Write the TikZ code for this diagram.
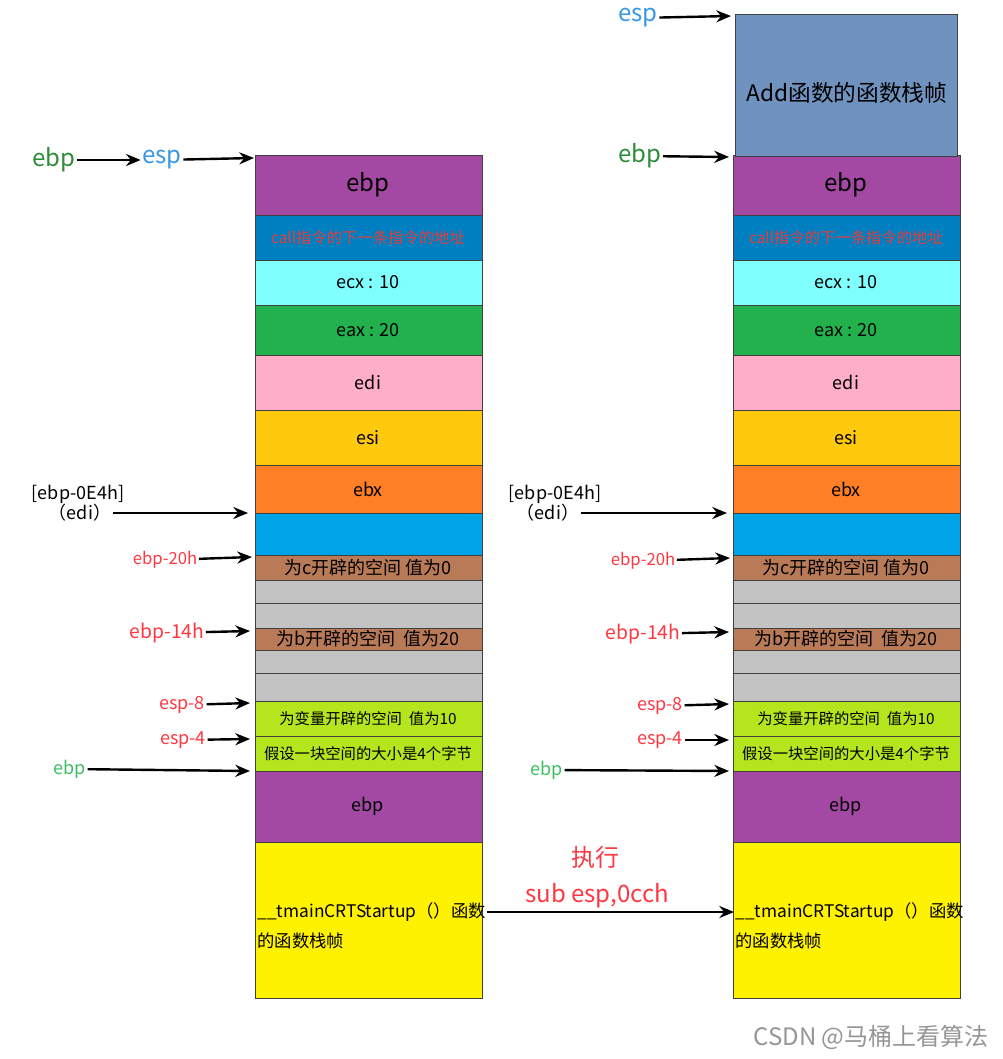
\documentclass[tikz,border=0pt]{standalone}
\usepackage{fontspec}
\setmainfont{Noto Sans CJK SC}
\usetikzlibrary{arrows.meta}
\definecolor{StEbp}{RGB}{163,73,164}
\definecolor{StCall}{RGB}{0,128,192}
\definecolor{StEcx}{RGB}{128,255,255}
\definecolor{StEax}{RGB}{34,177,76}
\definecolor{StEdi}{RGB}{255,174,201}
\definecolor{StEsi}{RGB}{255,201,14}
\definecolor{StEbx}{RGB}{255,127,39}
\definecolor{StBlue}{RGB}{0,162,232}
\definecolor{StBrown}{RGB}{185,122,87}
\definecolor{StGray}{RGB}{195,195,195}
\definecolor{StLime}{RGB}{181,230,29}
\definecolor{StYellow}{RGB}{255,242,0}
\definecolor{AddBlue}{RGB}{112,146,190}
\definecolor{CallRed}{RGB}{230,60,60}
\definecolor{EbpGreen}{RGB}{45,140,55}
\definecolor{EbpLight}{RGB}{60,190,100}
\definecolor{EspBlue}{RGB}{55,150,230}
\definecolor{LabRed}{RGB}{255,55,65}
\definecolor{MarkGray}{RGB}{150,150,150}
\newcommand{\fbig}{\fontsize{18}{20}\selectfont}
\newcommand{\fadd}{\fontsize{17}{19}\selectfont}
\newcommand{\foff}{\fontsize{14.5}{16}\selectfont}
\newcommand{\fmid}{\fontsize{13.5}{15}\selectfont}
\newcommand{\ftm}{\fontsize{13}{15}\selectfont}
\newcommand{\fred}{\fontsize{12.5}{14}\selectfont}
\newcommand{\fsmall}{\fontsize{11.5}{13}\selectfont}

\begin{document}
\begin{tikzpicture}[x=0.75pt,y=-0.75pt,
    cell/.style={draw=black!75,line width=0.6pt},
    arr/.style={-{Stealth[length=11pt,width=9pt]},line width=1.8pt,black},
    side/.style={inner sep=1pt}]
  \useasboundingbox (0,0) rectangle (1002,1059);
  % the two stacks
  \foreach \side/\dx in {L/0,R/478}{
    \foreach \ya/\yb/\col/\tc/\fs/\txt [count=\i] in {
        155/215/StEbp/black/\fbig/ebp,
        215/260/StCall/CallRed/\fsmall/call指令的下一条指令的地址,
        260/305/StEcx/black/\fmid/ecx : 10,
        305/355/StEax/black/\fmid/eax : 20,
        355/410/StEdi/black/\fmid/edi,
        410/465/StEsi/black/\fmid/esi,
        465/513/StEbx/black/\fmid/ebx,
        513/555/StBlue/black/\fmid/{},
        555/580/StBrown/black/\fmid/为c开辟的空间 值为0,
        580/603/StGray/black/\fsmall/{},
        603/628/StGray/black/\fsmall/{},
        628/650/StBrown/black/\fmid/为b开辟的空间~~值为20,
        650/673/StGray/black/\fsmall/{},
        673/701/StGray/black/\fsmall/{},
        701/736/StLime/black/\fsmall/为变量开辟的空间~~值为10,
        736/771/StLime/black/\fsmall/假设一块空间的大小是4个字节,
        771/842/StEbp/black/\fmid/ebp,
        842/998/StYellow/black/\fmid/{}}{
      \path[cell,fill=\col] (255+\dx,\ya) rectangle (482+\dx,\yb);
      \node[text=\tc,font=\fs] (\side\i) at (368+\dx,{(\ya+\yb)/2}) {\txt};
    }
    \node[anchor=west,font=\ftm,inner sep=1pt] (\side tm) at (256+\dx,912) {\_\_tmainCRTStartup（）函数};
    \node[anchor=west,font=\ftm,inner sep=1pt] (\side fr) at (256+\dx,941) {的函数栈帧};
  }
  % Add frame on top of the right stack
  \path[cell,fill=AddBlue] (735,14) rectangle (957,156);
  \node[font=\fadd] (Radd) at (847,93) {Add函数的函数栈帧};

  % pointers, left
  \node[side,text=EbpGreen,font=\fbig] (Lebp) at (54,160) {ebp};
  \node[side,text=EspBlue,font=\fbig] (Lesp) at (162,160) {esp};
  \coordinate (Ltop) at (254,158);
  \draw[arr] (Lebp) -- (Lesp);
  \draw[arr] (Lesp) -- (Ltop);
  \node[side,font=\fmid] (Lhex) at (78,494) {[ebp-0E4h]};
  \node[side,font=\fmid] (Ledi) at (80,513) {（edi）};
  \coordinate (Lblue) at (248,513);
  \draw[arr] (Ledi) -- (Lblue);
  \node[side,text=LabRed,font=\fred] (L20h) at (165,560) {ebp-20h};
  \coordinate (Lc) at (252,557);
  \draw[arr] (L20h) -- (Lc);
  \node[side,text=LabRed,font=\foff] (L14h) at (167,633) {ebp-14h};
  \coordinate (Lb) at (250,631);
  \draw[arr] (L14h) -- (Lb);
  \node[side,text=LabRed,font=\fmid] (Lesp8) at (182,705) {esp-8};
  \coordinate (Lv) at (250,703);
  \draw[arr] (Lesp8) -- (Lv);
  \node[side,text=LabRed,font=\fmid] (Lesp4) at (183,740) {esp-4};
  \coordinate (Lw) at (250,739);
  \draw[arr] (Lesp4) -- (Lw);
  \node[side,text=EbpLight,font=\fmid] (Lbase) at (70,769) {ebp};
  \coordinate (Lold) at (250,771);
  \draw[arr] (Lbase) -- (Lold);

  % pointers, right
  \node[side,text=EspBlue,font=\fbig] (Resp) at (638,18) {esp};
  \coordinate (Rtop) at (731,16);
  \draw[arr] (Resp) -- (Rtop);
  \node[side,text=EbpGreen,font=\fbig] (Rebp) at (640,156) {ebp};
  \coordinate (Rframe) at (729,157);
  \draw[arr] (Rebp) -- (Rframe);
  \node[side,font=\fmid] (Rhex) at (555,494) {[ebp-0E4h]};
  \node[side,font=\fmid] (Redi) at (548,513) {（edi）};
  \coordinate (Rblue) at (727,513);
  \draw[arr] (Redi) -- (Rblue);
  \node[side,text=LabRed,font=\fred] (R20h) at (643,561) {ebp-20h};
  \coordinate (Rc) at (730,558);
  \draw[arr] (R20h) -- (Rc);
  \node[side,text=LabRed,font=\foff] (R14h) at (643,634) {ebp-14h};
  \coordinate (Rb) at (729,632);
  \draw[arr] (R14h) -- (Rb);
  \node[side,text=LabRed,font=\fmid] (Resp8) at (660,706) {esp-8};
  \coordinate (Rv) at (729,704);
  \draw[arr] (Resp8) -- (Rv);
  \node[side,text=LabRed,font=\fmid] (Resp4) at (660,740) {esp-4};
  \coordinate (Rw) at (729,740);
  \draw[arr] (Resp4) -- (Rw);
  \node[side,text=EbpLight,font=\fmid] (Rbase) at (547,770) {ebp};
  \coordinate (Rold) at (729,771);
  \draw[arr] (Rbase) -- (Rold);

  % the step between the two
  \node[text=LabRed,font=\fbig] (run) at (595,857) {执行};
  \node[text=LabRed,font=\fbig] (sub) at (597,896) {sub esp,0cch};
  \draw[arr] (Ltm) -- (Rtm);

  \node[text=MarkGray,font=\fbig] (mark) at (871,1037) {CSDN @马桶上看算法};
\end{tikzpicture}
\end{document}
